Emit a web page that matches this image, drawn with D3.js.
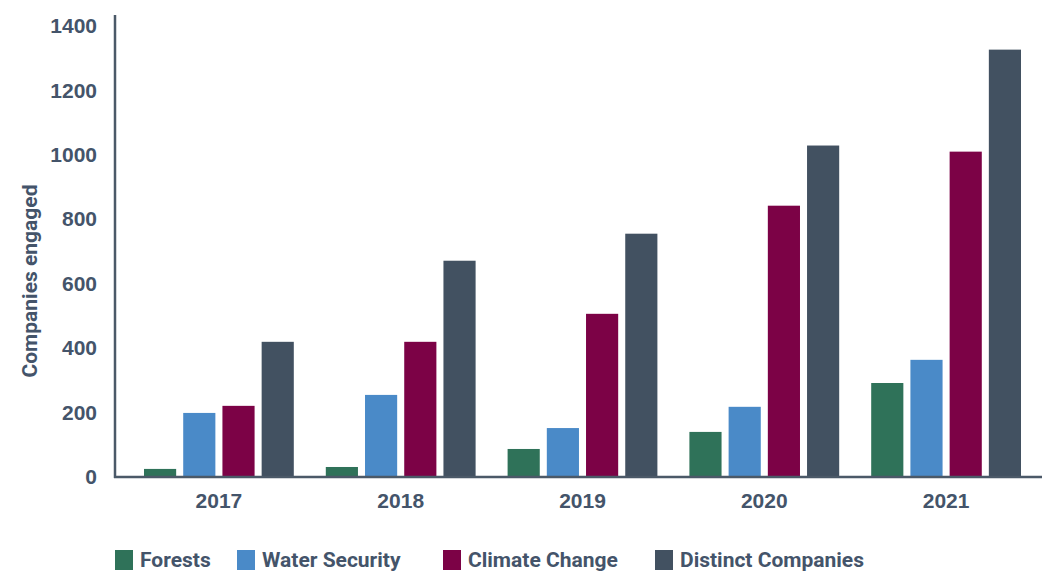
<!DOCTYPE html>
<html>
<head>
<meta charset="utf-8">
<script src="https://cdn.jsdelivr.net/npm/d3@7"></script>
<style>
  html, body { margin: 0; padding: 0; background: #ffffff; }
  svg { display: block; font-family: Roboto, "Noto Sans", sans-serif; }
</style>
</head>
<body>
<svg id="chart" width="1045" height="571"></svg>
<script>
// Companies engaged per programme, by year
const years = ["2017", "2018", "2019", "2020", "2021"];
const seriesNames = ["Forests", "Water Security", "Climate Change", "Distinct Companies"];
const forests = [22, 28, 84, 137, 289];
const waterSecurity = [196, 252, 149, 215, 361];
const climateChange = [218, 417, 504, 840, 1008];
const distinctCompanies = [417, 669, 753, 1027, 1325];
const yTicks = [0, 200, 400, 600, 800, 1000, 1200, 1400];
const colors = ["#2f7259", "#4a8ac8", "#7c0246", "#425161"];

const seriesValues = [forests, waterSecurity, climateChange, distinctCompanies];
const textColor = "#44546a";
const axisColor = "#4b5968";

const svg = d3.select("#chart");

const y = d3.scaleLinear().domain([0, 1400]).range([476, 25.5]);
const x0 = d3.scaleBand().domain(years).range([128, 1037]).padding(0);
const x1 = d3.scaleBand().domain(seriesNames)
  .range([16, x0.bandwidth() - 16]).paddingInner(0.18).paddingOuter(0);

// Bars
const groups = svg.append("g").selectAll("g")
  .data(years)
  .join("g")
  .attr("transform", d => `translate(${x0(d)},0)`);

groups.selectAll("rect")
  .data((yr, i) => seriesNames.map((name, s) => ({ name, s, value: seriesValues[s][i] })))
  .join("rect")
  .attr("x", d => x1(d.name))
  .attr("width", x1.bandwidth())
  .attr("y", d => y(d.value))
  .attr("height", d => y(0) - y(d.value) + 1)
  .attr("fill", d => colors[d.s]);

// Y axis tick labels
const yAxis = d3.axisLeft(y).tickValues(yTicks).tickSize(0).tickPadding(0).tickFormat(d3.format("d"));
const yg = svg.append("g").attr("transform", "translate(97,0)").call(yAxis);
yg.select(".domain").remove();
yg.selectAll("text")
  .attr("fill", textColor)
  .style("font-size", "21px")
  .style("font-weight", "700")
  .attr("dy", "0.35em");

// X axis tick labels
const xAxis = d3.axisBottom(x0).tickSize(0).tickPadding(0);
const xg = svg.append("g").attr("transform", "translate(0,493)").call(xAxis);
xg.select(".domain").remove();
xg.selectAll("text")
  .attr("fill", textColor)
  .style("font-size", "21px")
  .style("font-weight", "700");

// Axis lines
svg.append("line")
  .attr("x1", 115).attr("x2", 115)
  .attr("y1", 15).attr("y2", y(0) + 2)
  .attr("stroke", axisColor).attr("stroke-width", 2.5);
svg.append("line")
  .attr("x1", 114).attr("x2", 1042)
  .attr("y1", y(0) + 1).attr("y2", y(0) + 1)
  .attr("stroke", axisColor).attr("stroke-width", 2.5);

// Y axis title
svg.append("text")
  .attr("transform", "translate(37,281) rotate(-90)")
  .attr("text-anchor", "middle")
  .attr("fill", textColor)
  .style("font-size", "21px")
  .style("font-weight", "700")
  .text("Companies engaged");

// Legend
const legendX = [115, 237, 443, 655];
const legend = svg.append("g").selectAll("g")
  .data(seriesNames)
  .join("g")
  .attr("transform", (d, i) => `translate(${legendX[i]},550)`);
legend.append("rect")
  .attr("width", 18).attr("height", 20)
  .attr("fill", (d, i) => colors[i]);
legend.append("text")
  .attr("x", 25).attr("y", 10).attr("dy", "0.35em")
  .attr("fill", textColor)
  .style("font-size", "21px")
  .style("font-weight", "700")
  .text(d => d);
</script>
</body>
</html>
